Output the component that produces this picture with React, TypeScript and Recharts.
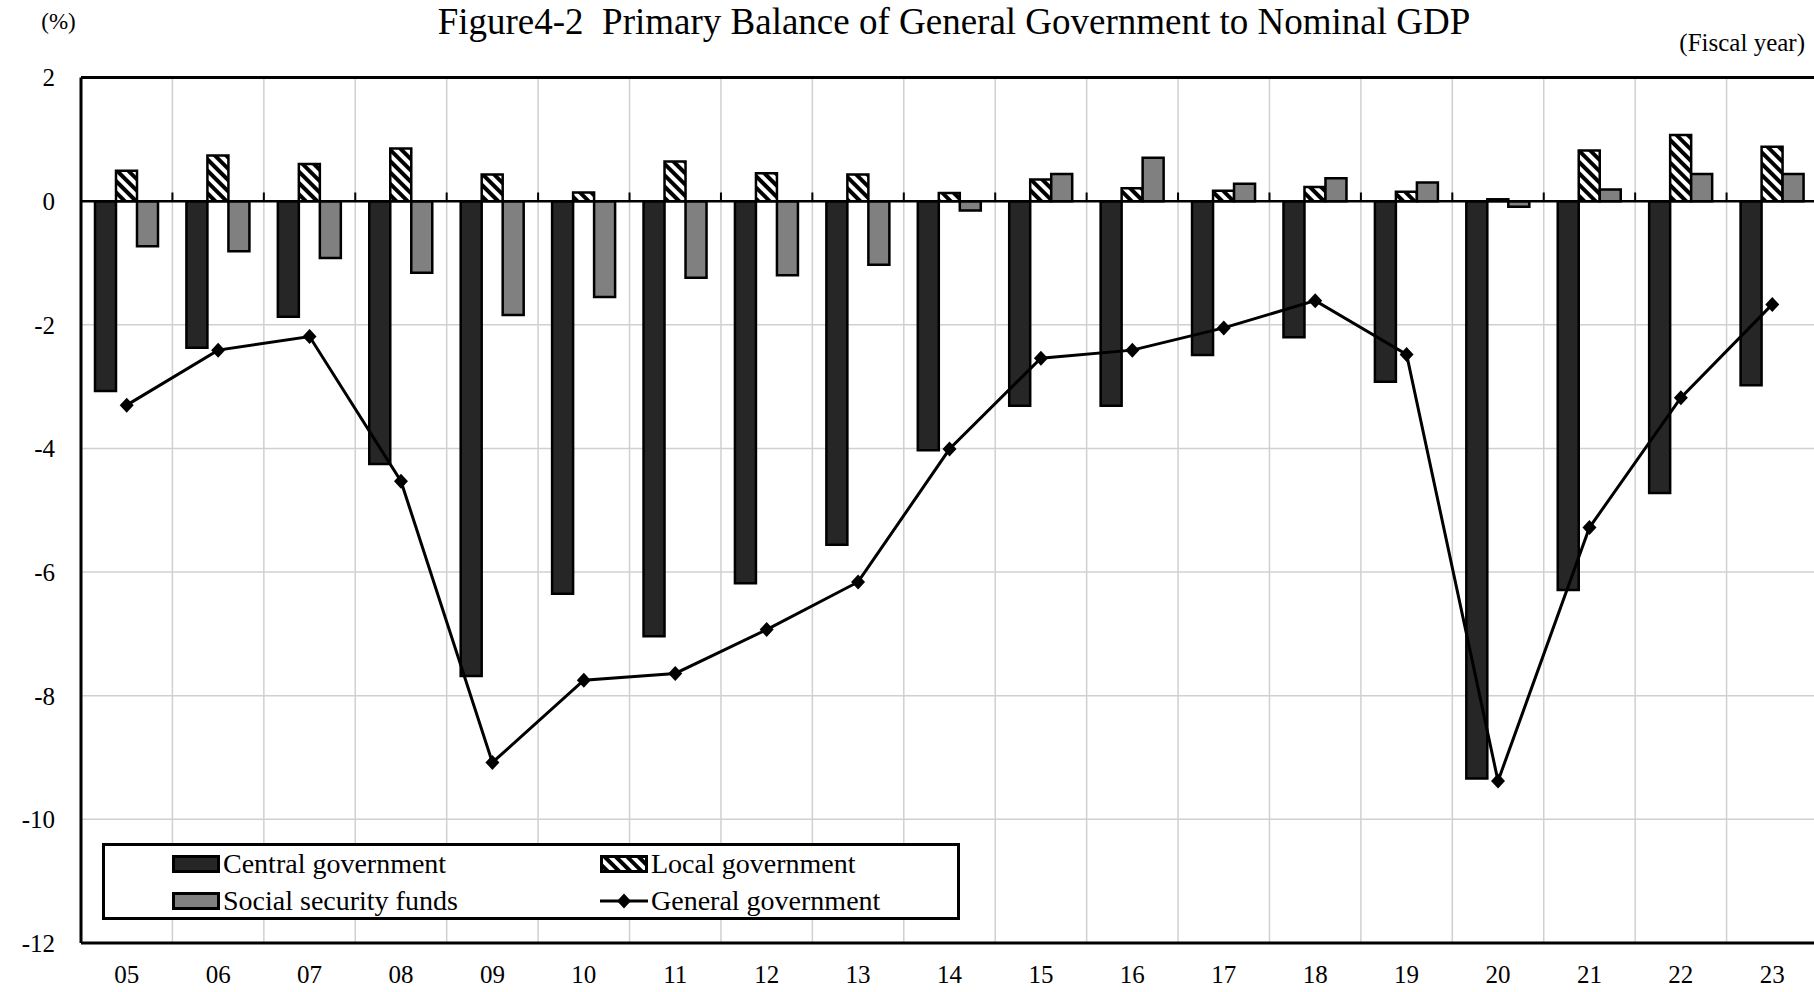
import React from 'react'
import {
  ComposedChart,
  Bar,
  Line,
  XAxis,
  YAxis,
  CartesianGrid,
  ReferenceLine,
  Legend,
} from 'recharts'

// fiscal years
const years = ['05', '06', '07', '08', '09', '10', '11', '12', '13', '14', '15', '16', '17', '18', '19', '20', '21', '22', '23']

// % of nominal GDP
const central = [-3.07, -2.37, -1.87, -4.25, -7.68, -6.35, -7.04, -6.18, -5.56, -4.03, -3.31, -3.31, -2.49, -2.2, -2.92, -9.34, -6.29, -4.72, -2.98]
const local = [0.49, 0.74, 0.6, 0.85, 0.43, 0.14, 0.64, 0.45, 0.43, 0.13, 0.35, 0.21, 0.17, 0.23, 0.15, 0.03, 0.82, 1.07, 0.88]
const social = [-0.73, -0.81, -0.92, -1.16, -1.84, -1.55, -1.24, -1.2, -1.03, -0.15, 0.44, 0.7, 0.28, 0.37, 0.3, -0.09, 0.19, 0.44, 0.44]
const general = [-3.3, -2.41, -2.19, -4.53, -9.08, -7.75, -7.64, -6.93, -6.16, -4.01, -2.54, -2.41, -2.05, -1.61, -2.48, -9.38, -5.28, -3.18, -1.67]

const yTicks = [-12, -10, -8, -6, -4, -2, 0, 2]

const data = years.map((y, i) => ({
  year: y,
  central: central[i],
  local: local[i],
  social: social[i],
  general: general[i],
}))

const FONT = "'Liberation Serif', 'Times New Roman', serif"
const GRID = '#d0d0d0'

const Diamond = (props: any) => {
  const { cx, cy, index } = props
  if (cx == null || cy == null) return <g key={`d-${index}`} />
  return (
    <path
      key={`d-${index}`}
      d={`M${cx},${cy - 7.5} L${cx + 7},${cy} L${cx},${cy + 7.5} L${cx - 7},${cy} Z`}
      fill="#000"
    />
  )
}

const LegendBox = () => {
  const item = (left: number, top: number, icon: React.ReactNode, label: string) => (
    <div
      style={{
        position: 'absolute',
        left,
        top,
        height: 34,
        display: 'flex',
        alignItems: 'center',
        whiteSpace: 'nowrap',
      }}
    >
      {icon}
      <span style={{ fontFamily: FONT, fontSize: 28, color: '#000', marginLeft: 3, lineHeight: '34px' }}>{label}</span>
    </div>
  )
  const rect = (fill: string) => (
    <svg width={48} height={18}>
      <rect x={1.5} y={1.5} width={45} height={15} fill={fill} stroke="#000" strokeWidth={3} />
    </svg>
  )
  const lineIcon = (
    <svg width={48} height={18}>
      <line x1={0} y1={9} x2={48} y2={9} stroke="#000" strokeWidth={3} />
      <path d="M24,1.5 L31,9 L24,16.5 L17,9 Z" fill="#000" />
    </svg>
  )
  return (
    <div
      style={{
        position: 'relative',
        width: 858,
        height: 77,
        boxSizing: 'border-box',
        border: '3px solid #000',
        background: '#fff',
      }}
    >
      {item(67, 1, rect('#262626'), 'Central government')}
      {item(495, 1, rect('url(#hatch)'), 'Local government')}
      {item(67, 38, rect('#808080'), 'Social security funds')}
      {item(495, 38, lineIcon, 'General government')}
    </div>
  )
}

export default function App() {
  return (
    <div style={{ position: 'fixed', left: 0, top: 0, width: 1814, height: 992, overflow: 'hidden', background: '#fff' }}>
      <svg width={0} height={0} style={{ position: 'absolute' }}>
        <defs>
          <pattern id="hatch" width={8} height={8} patternUnits="userSpaceOnUse" patternTransform="rotate(-45)">
            <rect width={8} height={8} fill="#fff" />
            <line x1={2} y1={0} x2={2} y2={8} stroke="#000" strokeWidth={4} />
          </pattern>
        </defs>
      </svg>
      <ComposedChart
        width={1830}
        height={992}
        data={data}
        margin={{ top: 77.5, right: 12, bottom: 0, left: 0 }}
        barGap={0}
        barSize={21}
      >
        <CartesianGrid stroke={GRID} strokeWidth={1.5} vertical={false} />
        {years.slice(1).map((y) => (
          <ReferenceLine key={`g-${y}`} x={y} position="start" stroke={GRID} strokeWidth={1.5} />
        ))}
        <XAxis
          dataKey="year"
          interval={0}
          tickLine={false}
          tickSize={0}
          tickMargin={22}
          height={49}
          axisLine={{ stroke: '#000', strokeWidth: 3 }}
          tick={{ fill: '#000', fontSize: 25, fontFamily: FONT }}
        />
        <YAxis
          type="number"
          domain={[-12, 2]}
          ticks={yTicks}
          interval={0}
          width={81}
          tickLine={false}
          tickSize={0}
          tickMargin={26}
          axisLine={{ stroke: '#000', strokeWidth: 3 }}
          tick={{ fill: '#000', fontSize: 25, fontFamily: FONT }}
        />
        <Bar dataKey="central" fill="#262626" stroke="#000" strokeWidth={2.5} isAnimationActive={false} />
        <Bar dataKey="local" fill="url(#hatch)" stroke="#000" strokeWidth={2.5} isAnimationActive={false} />
        <Bar dataKey="social" fill="#808080" stroke="#000" strokeWidth={2.5} isAnimationActive={false} />
        <ReferenceLine y={0} stroke="#000" strokeWidth={2.5} />
        {years.slice(1).map((y) => (
          <ReferenceLine
            key={`t-${y}`}
            segment={[{ x: y, y: 0 }, { x: y, y: 0.14 }]}
            position="start"
            stroke="#000"
            strokeWidth={2}
          />
        ))}
        <ReferenceLine y={2} stroke="#000" strokeWidth={3} />
        <Line
          dataKey="general"
          type="linear"
          stroke="#000"
          strokeWidth={3}
          dot={Diamond}
          activeDot={false}
          isAnimationActive={false}
        />
        <Legend
          layout="vertical"
          align="center"
          verticalAlign="middle"
          content={() => <LegendBox />}
          wrapperStyle={{ left: 102, top: 843, width: 858, height: 77 }}
        />
      </ComposedChart>
      <svg width={1814} height={80} style={{ position: 'absolute', left: 0, top: 0, pointerEvents: 'none' }}>
        <text
          x={954}
          y={34}
          textAnchor="middle"
          fontFamily={FONT}
          fontSize={37}
          fill="#000"
          style={{ whiteSpace: 'pre' }}
        >
          {'Figure4-2  Primary Balance of General Government to Nominal GDP'}
        </text>
        <text x={58.5} y={29} textAnchor="middle" fontFamily={FONT} fontSize={23} fill="#000">
          (%)
        </text>
        <text x={1805} y={51} textAnchor="end" fontFamily={FONT} fontSize={25} fill="#000">
          (Fiscal year)
        </text>
      </svg>
    </div>
  )
}
